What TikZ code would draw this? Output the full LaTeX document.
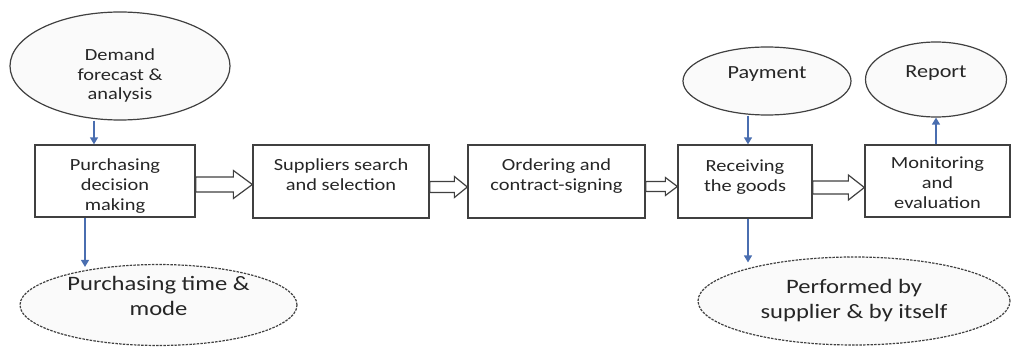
\documentclass[tikz,border=0pt]{standalone}
\usepackage{fontspec}
\setmainfont{Carlito}[FakeStretch=1.2]
\usetikzlibrary{shapes.geometric,arrows.meta,calc}
\definecolor{edge}{HTML}{404040}
\definecolor{txt}{HTML}{262626}
\definecolor{arrblue}{HTML}{4A6EB0}
\tikzset{
 box/.style={draw=edge, line width=1.3pt, fill=white, text=txt, align=center, inner sep=0pt, font=\fontsize{17}{20}\selectfont},
 oval/.style={ellipse, draw=edge, line width=1.2pt, fill=gray!4, text=txt, align=center, inner sep=0pt},
 dashoval/.style={oval, dash pattern=on 2.5pt off 1.2pt},
 bluearr/.style={draw=arrblue, line width=1.3pt, -{Triangle[width=8pt,length=7pt]}},
 blk/.style={draw=edge, line width=1.2pt, fill=white, line join=miter},
}
\newcommand{\blkarrow}[6]{%
 \draw[blk] let \p1=(#1.east), \p2=(#2.west) in
 (\x1,\y1+#3+#4) -- (\x2-#6,\y1+#3+#4) -- (\x2-#6,\y1+#3+#5) -- (\x2,\y1+#3)
 -- (\x2-#6,\y1+#3-#5) -- (\x2-#6,\y1+#3-#4) -- (\x1,\y1+#3-#4) -- cycle;}
\begin{document}
\begin{tikzpicture}[x=1pt,y=1pt]
\useasboundingbox (0,0) rectangle (1014,346);
% process boxes
\node[box, minimum width=160pt, minimum height=72pt] (b1) at (115,165) {Purchasing\\decision\\making\\[-28pt]};
\node[box, minimum width=176pt, minimum height=73pt] (b2) at (341,164.5) {Suppliers search\\and selection\\[-7pt]};
\node[box, minimum width=177pt, minimum height=73pt] (b3) at (556.5,164.5) {Ordering and\\contract-signing\\[-7pt]};
\node[box, minimum width=134pt, minimum height=73pt] (b4) at (745,164.5) {Receiving\\the goods\\[-9pt]};
\node[box, minimum width=145pt, minimum height=72pt] (b5) at (937.5,165) {Monitoring\\and\\evaluation\\[-24pt]};
% ellipses
\node[oval, minimum width=220pt, minimum height=108pt, font=\fontsize{17}{19.5}\selectfont] (demand) at (120,280) {Demand\\forecast \&\\analysis\\[-36pt]};
\node[oval, minimum width=168pt, minimum height=68pt, font=\fontsize{18.5}{22}\selectfont] (pay) at (767,265) {Payment\\[-6pt]};
\node[oval, minimum width=141pt, minimum height=75pt, font=\fontsize{18.5}{22}\selectfont] (rep) at (936,266.5) {Report\\[-7pt]};
\node[dashoval, minimum width=277pt, minimum height=80pt, font=\fontsize{20.5}{25}\selectfont] (time) at (158.5,41) {Purchasing time \&\\mode\\[-7pt]};
\node[dashoval, minimum width=312pt, minimum height=88pt, font=\fontsize{20.5}{25}\selectfont] (perf) at (854,45) {Performed by\\supplier \& by itself};
% block arrows
\blkarrow{b1}{b2}{-3.5pt}{7.5pt}{14pt}{19pt}
\blkarrow{b2}{b3}{-5.5pt}{5.5pt}{10.5pt}{13pt}
\blkarrow{b3}{b4}{-5pt}{5pt}{9pt}{12pt}
\blkarrow{b4}{b5}{-6pt}{6.5pt}{12.5pt}{16pt}
% blue arrows
\coordinate (a1) at ($(b1.north)+(-21,0)$);
\draw[bluearr] (a1 |- demand.south) -- (a1);
\coordinate (a2) at ($(b1.south)+(-30,0)$);
\draw[bluearr] (a2) -- ($(a2 |- time.north)+(0,-3)$);
\coordinate (a3) at ($(b4.north)+(3,0)$);
\draw[bluearr] (a3 |- pay.south) -- (a3);
\coordinate (a4) at ($(b4.south)+(3,0)$);
\draw[bluearr] (a4) -- ($(a4 |- perf.north)+(0,-6)$);
\draw[bluearr] (b5.north -| rep.south) -- (rep.south);
\end{tikzpicture}
\end{document}
